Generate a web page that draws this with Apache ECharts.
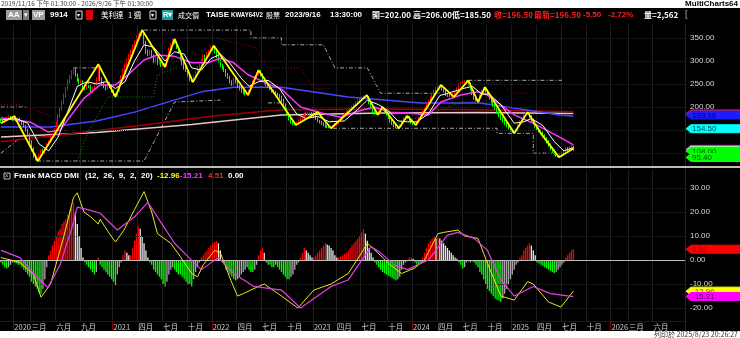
<!DOCTYPE html>
<html><head><meta charset="utf-8">
<script src="https://cdn.jsdelivr.net/npm/echarts@6/dist/echarts.min.js"></script>
<style>html,body{margin:0;padding:0;background:#000;overflow:hidden}#c{width:740px;height:338px}</style>
</head><body><div id="c"></div><script>
// ---------- DATA ----------
const firstWeek = [2019, 10, 16];   // 2019/11/16
const weekCount = 359;              // through 2026/9/26
// weekly candles [open, close, low, high]
const candles = [
[172,170,166,176],[170,168,164,173],[168,172,166,175],[172,175,170,179],[175,178,172,182],[178,176,173,181],[176,174,170,178],[174,178,172,183],
[178,172,169,180],[172,175,168,178],[175,170,167,177],[170,165,161,172],[165,160,156,168],[160,150,147,162],[150,140,136,153],[140,125,120,143],[125,110,104,128],[110,95,90,113],[95,88,84,99],[88,86,83,92],
[86,95,85,98],[95,105,92,108],[105,100,97,110],[100,110,98,113],[110,120,107,123],[120,125,116,129],[125,135,122,138],[135,140,131,144],[140,150,137,154],[150,165,147,168],[165,180,162,184],[180,195,176,199],
[195,210,192,214],[210,225,206,229],[225,240,220,244],[240,255,236,260],[255,265,250,270],[265,275,260,280],[275,283,270,286],
[283,270,266,285],[270,260,255,273],[260,250,245,263],[250,255,246,259],[255,245,241,258],[245,240,236,249],[240,250,237,254],[250,245,241,253],[245,235,232,248],[235,240,231,244],[240,250,237,254],[250,260,247,264],
[260,285,257,293],
[285,260,256,288],[260,250,246,264],[250,245,241,254],[245,240,236,249],[240,250,237,254],[250,245,241,254],[245,235,231,248],[235,228,224,238],[228,225,222,231],
[225,235,223,238],[235,250,232,254],[250,265,247,269],[265,280,262,284],[280,290,276,294],[290,300,286,305],[300,310,296,315],[310,320,306,325],[320,330,316,335],[330,340,326,345],[340,350,335,355],[350,355,345,360],[355,360,350,364],[360,365,354,367],
[365,340,336,366],[340,320,315,344],[320,315,310,325],[315,320,311,325],[320,310,306,324],[310,300,296,314],[300,305,297,309],[305,295,291,308],[295,300,292,304],[300,290,287,303],[290,292,287,296],[292,290,287,295],
[290,310,288,313],[310,325,307,329],[325,335,321,339],[335,345,331,348],[345,340,336,348],
[340,330,326,343],[330,320,316,333],[320,305,301,323],[305,295,291,308],[295,285,281,298],[285,280,276,289],[280,270,266,283],[270,260,256,273],[260,256,254,264],
[256,265,254,268],[265,275,262,278],[275,285,272,289],[285,290,281,294],[290,300,287,304],[300,310,296,314],[310,305,301,314],[305,315,302,319],[315,320,311,324],[320,330,317,333],[330,328,323,333],
[328,320,316,331],[320,310,306,323],[310,300,296,313],[300,290,286,303],[290,285,281,294],[285,280,276,289],[280,270,266,283],[270,265,261,274],[265,255,251,268],[255,250,246,258],[250,260,247,264],[260,255,251,264],[255,245,241,258],[245,240,236,248],[240,235,231,243],[235,232,228,238],[232,228,225,235],[228,228,226,233],
[228,235,226,238],[235,245,232,248],[245,255,242,258],[255,265,252,268],[265,272,262,276],[272,278,268,280],
[278,270,266,280],[270,260,256,273],[260,255,251,264],[255,250,246,258],[250,245,241,253],[245,240,236,248],[240,235,231,243],[235,232,228,238],[232,228,224,235],[228,225,221,231],[225,222,218,228],
[222,215,211,225],[215,205,201,218],[205,195,191,208],[195,185,181,198],[185,175,171,188],[175,168,164,178],[168,163,160,171],[163,162,161,167],
[162,165,160,168],[165,170,162,173],[170,175,167,178],[175,180,172,183],[180,185,177,188],[185,183,180,188],[183,187,180,189],[187,188,184,189],[188,185,182,189],[185,180,177,188],[180,175,172,183],[175,170,167,178],
[170,168,164,172],[168,165,161,170],[165,162,158,167],[162,158,155,165],[158,156,154,161],[156,155,154,159],[155,155,154,158],
[155,158,154,161],[158,162,156,165],[162,165,159,168],[165,170,162,173],[170,175,167,178],[175,180,172,183],[180,185,177,188],[185,188,182,191],[188,192,185,195],[192,195,189,198],[195,200,192,203],[200,205,197,208],[205,210,202,213],[210,215,207,218],[215,218,212,221],[218,220,215,223],[220,223,217,225],[223,225,220,226],[225,222,218,226],
[222,210,206,224],[210,200,196,213],[200,190,186,203],[190,185,183,193],[185,184,183,188],
[184,190,183,193],[190,196,188,199],[196,199,193,200],
[199,192,188,200],[192,185,181,195],[185,178,174,188],[178,170,166,181],[170,165,161,173],[165,160,156,168],[160,157,154,163],[157,155,154,160],
[155,160,154,163],[160,168,157,171],[168,175,165,178],[175,180,172,181],[180,178,174,181],
[178,172,168,180],[172,168,164,175],[168,163,161,171],[163,162,161,166],
[162,168,160,171],[168,175,165,178],[175,182,172,185],[182,190,179,193],[190,198,187,201],[198,205,195,208],[205,212,202,215],[212,220,209,223],[220,228,217,231],[228,235,225,238],[235,240,232,243],[240,245,237,247],[245,246,241,248],
[246,240,236,248],[240,235,231,243],[235,228,224,238],[228,225,222,231],[225,223,222,228],[223,223,222,227],[223,226,222,229],
[226,232,224,235],[232,240,229,243],[240,248,237,251],[248,252,245,255],[252,255,249,257],[255,257,252,258],[257,256,252,258],[256,250,246,258],
[250,240,236,253],[240,230,226,243],[230,220,216,233],[220,215,212,223],[215,212,211,218],
[212,225,211,228],[225,235,222,238],[235,241,232,243],
[241,235,231,243],[235,228,224,238],[228,220,216,231],[220,212,208,223],[212,205,201,215],[205,198,194,208],[198,190,186,201],[190,182,178,193],[182,175,171,185],[175,170,166,178],[170,165,161,173],[165,160,156,168],[160,155,151,163],[155,150,146,158],[150,147,144,153],[147,145,143,150],
[145,150,143,153],[150,160,147,163],[160,168,157,171],[168,175,165,178],[175,182,172,185],[182,186,179,189],[186,187,183,189],
[187,180,176,189],[180,172,168,183],[172,165,161,175],[165,158,154,168],[158,152,148,161],[152,148,145,155],[148,145,143,151],
[145,138,134,147],[138,132,128,141],[132,125,121,135],[125,118,114,128],[118,110,106,121],[110,105,101,113],[105,100,96,108],[100,95,92,103],[95,93,91,98],
[93,96,92,100],[96,100,94,103],[100,105,98,108],[105,110,102,113],[110,108,105,113],[108,112,106,115],[112,113,109,118],[113,108,105,116]
];
// yellow zigzag pivots [week, price]
const zigzag = [[0,165],[7,180],[19.4,83],[51,293],[60,222],[74,367],[86,287],[91,348],[100.6,254],[111.6,333],[129.5,226],[135,280],[154.6,161],[166,189],[173,154],[191.8,226],[197.6,183],[200,200],[208.6,154],[213,181],[217.5,161],[230.6,248],[237.4,222],[245,258],[250,211],[253.7,243],[269,143],[276,189],[283,143],[292.5,91],[300,110]];
const maWhite = [[0,172],[8,175],[14,165],[20,120],[25,105],[30,135],[35,190],[40,245],[45,255],[50,250],[55,255],[60,240],[65,255],[70,300],[75,335],[80,330],[86,300],[91,320],[96,315],[100,285],[105,280],[110,305],[115,315],[120,295],[126,262],[130,245],[135,255],[140,258],[146,240],[150,215],[155,185],[160,175],[166,180],[172,168],[180,170],[187,195],[192,215],[198,205],[203,192],[208,170],[213,168],[218,168],[224,185],[230,225],[236,232],[242,240],[247,245],[252,228],[256,228],[262,205],[269,165],[274,168],[278,175],[284,160],[290,125],[295,105],[300,112]];
const maMagenta = [[0,177],[15.7,167],[24.6,146],[31,150],[43.5,219],[52,248],[60,248],[66.6,270],[75,302],[82,313],[91,310],[100,296],[108.5,296],[115,306],[122,296],[129.5,270],[138,254],[147,239],[157,200],[168,187],[178,178],[189,193],[195.5,200],[204,189],[213,187],[224,183],[230.6,211],[241,226],[250,233],[255,226],[269,183],[279,165],[293.5,133],[300,118]];
const maBlue = [[0,157],[26,157],[50,170],[70,189],[105,233],[122,243],[147,243],[182,222],[220,209],[251,209],[293,183],[300,180]];
const maDarkRed = [[0,125],[26,137],[73,160],[110,180],[147,194],[200,196],[250,194],[300,190]];
const maPink = [[0,135],[50,145],[100,162],[147,183],[200,187],[250,188],[300,186]];
// stepped channel lines (null = gap)
const stopGray = [[0,200],[14,200],[14,null],[38,285],[52,285],[52,null],[75,367],[131,367],[131,350],[147,350],[147,335],[169,335],[175,285],[192,285],[199,230],[230,230],[230,null],[245,258],[294,258],[294,null],
  [0,100],[10,133],[10,null],[19,83],[75,83],[91,211],[91,215],[115,215],[115,null],[140,209],[147,209],[147,null],[174,154],[260,154],[260,143],[279,143],[279,100],[290,100]];
const stopRed = [[0,205],[10,205],[27,180],[27,null],[94,350],[112,350],[133,330],[140,285],[157,285],[164,240],[172,240],[172,null],[255,252],[262,252],[269,230],[276,230]];
const stopGreen = [[40,83],[45,139],[56,222],[80,222],[82,270],[92,285],[92,null],[205,161],[225,185],[241,211],[248,211]];
// MACD histogram (weekly)
const macdHist = [-1,-2,-3,-3.5,-3,-2,-1,-1,-1.5,-2,-2,
-3,-4,-5,-6,-7,-9,-10,-11,-12,-13.5,-14,-12,-8,-3,
2,4,6,8,10,12,13,15,16,17,19,21,23,24,20,15,10,5,1,
-1,-2,-3,-4,-5,-6,-5,1,-2,-3,-4,-5,-6,-7,-8,-9,-10.5,-6,-3,-1,
2,4,3,2,2,5,8,11,14,13,10,7,4,1,
-1,-2,-4,-5,-6,-7,-8,-10,-11,-9,-6,-4,-3,-4,-5,-6,-6,-7,-8,-9,-10,-10,-11,-8,-5,-3,-1,
1,2,3,4,5,6,7,7.5,8,7,4,-1,-2,-4,-5,-6,-7,-8,-8.5,-8,-7,-6,-5,-4,-3,-4,-5,-5,-4,-2,2,4,5,3,
-1,-2,-2,-3,-3,-2,-3,-4,-5,-6,-7,-8,-8,-7,-6,-4,-2,-1,
1,3,5,4,3,2,1,1,2,3,4,5,6,7,6.5,6,5,4,2,1,
1,1.5,2,2.5,3,4,5,6,7,8,9,10,11.5,13,11,8,5,3,1,
-1,-2,-3,-4,-5,-5.5,-6,-6.5,-7,-7.5,-8,-8.5,-8,-7,-4,-2,-1,-0.5,1,1,0.5,-1,-2,-2,-1,
1,3,5,7,8,9,9.5,9,9.5,9,8,7,6,5,4,3,2,1,0.5,
-1,-2,-3.5,-3,-1,-0.5,-1,-0.5,-1,-2,-3,-5,-6,-8,-10,-12,-13,-14,-15,-16,-16.5,-17,-17.5,-16,
-14,-12,-10,-8,-6,-4,-2,-1,1,2,4,5,6,7,6,4,2,
-1,-1.5,-2,-2.5,-3,-3.5,-4,-4.5,-5,-5.5,-5,-4,-3,-2,-1,1,2,3,4,4.51];
const difLine = [[0,1],[10,-1],[17,-6],[21,-15.5],[22,-15.6],[26,-10],[33,10],[38,26],[40,28],[43.5,20],[47,18],[51,15],[52,17],[56,12],[60,7.5],[64.5,12.5],[70,21],[75,28.5],[79,20],[82,11],[89,7],[94,1.4],[100,-5.6],[103,-7],[106,-2],[112,4],[115,3],[120.5,-8.5],[124,-15],[127,-14],[135,-11],[138,-10],[147,-15],[155.6,-20],[164,-12.5],[173,-10],[182,-5.6],[189,3],[192,7],[197.5,3],[204,-2],[210,-5.6],[216.5,-3.5],[222,0],[229,11],[232,11.5],[239.5,12.5],[243,10],[250,9],[255,-1.4],[262,-15],[269,-16.7],[276,-9],[279,-10],[287,-17.5],[293.5,-19.6],[300,-12.96]];
const deaLine = [[0,4],[10,1],[17,-5.6],[24.6,-11.5],[31,-2],[37,13],[40,22],[45.6,21],[52,19.5],[61,12.5],[70,18],[77,24],[84,15.5],[91,7],[98,1.4],[105,-4],[114,1],[122,-5.6],[132.6,-11],[147,-12.5],[157,-20],[173,-11],[182,-8.3],[194,5.6],[199,3],[206,-2],[213,-4],[224,0],[234,10.4],[239.5,11.5],[248,9],[255,4],[262,-8.3],[269,-15],[279,-11],[288,-14],[300,-15.21]];
// axis ticks and labels
const priceTicks = [100,150,200,250,300,350];
const macdTicks = [-20,-10,0,10,20,30];
const xTickText = {'2020-01':'2020','2020-03':'三月','2020-06':'六月','2020-09':'九月','2021-01':'2021','2021-04':'四月','2021-07':'七月','2021-10':'十月','2022-01':'2022','2022-04':'四月','2022-07':'七月','2022-10':'十月','2023-01':'2023','2023-04':'四月','2023-07':'七月','2023-10':'十月','2024-01':'2024','2024-04':'四月','2024-07':'七月','2024-10':'十月','2025-01':'2025','2025-04':'四月','2025-07':'七月','2025-10':'十月','2026-01':'2026','2026-03':'三月','2026-06':'六月'};
// right-edge value tags: at = level where the (stacked) tag sits, t = its text
const priceTags = [{at:185,t:'',fill:'#ff2020',fg:'#000'},{at:182.8,t:'189.16',fill:'#1c1cff',fg:'#00005a'},{at:153,t:'154.50',fill:'#00ffff',fg:'#004848'},{at:108.3,t:'118.04',fill:'#ffffff',fg:'#000',border:'#ff00ff'},{at:104.6,t:'108.00',fill:'#00ff00',fg:'#005000'},{at:90.6,t:'95.40',fill:'#00ff00',fg:'#005000'}];
const macdTags = [{at:4.51,t:'4.51',fill:'#ff0000',fg:'#900000'},{at:-12.96,t:'-12.96',fill:'#ffff00',fg:'#606000'},{at:-15.21,t:'-15.21',fill:'#ff00ff',fg:'#600060'}];

// ---------- BUILD ----------
const categories = [];
for (let k = 0; k < weekCount; k++) {
  const d = new Date(Date.UTC(firstWeek[0], firstWeek[1], firstWeek[2] + 7 * k));
  categories.push(d.toISOString().slice(0, 10));
}
function tickText(idx) {
  const key = categories[idx].slice(0, 7);
  if (!(key in xTickText)) return null;
  if (idx > 0 && categories[idx - 1].slice(0, 7) === key) return null;
  return xTickText[key];
}
function isYearStart(idx) { return idx > 0 && categories[idx].slice(0, 4) !== categories[idx - 1].slice(0, 4); }

const CJK = '"Noto Sans CJK TC","Liberation Sans",sans-serif';
const LAT = '"Liberation Sans",Arial,sans-serif';
const chart = echarts.init(document.getElementById('c'), null, {renderer: 'canvas'});
const GX = 0, GR = 55;
const pMin = 70, pMax = 378, mMin = -25.4, mMax = 37.5;

const catAxis = (gi, showLabel) => ({
  type: 'category', gridIndex: gi, data: categories, boundaryGap: true, position: 'bottom',
  axisLine: {show: showLabel, onZero: false, lineStyle: {color: '#5a0000'}},
  axisTick: {show: showLabel, interval: (i) => isYearStart(i), length: 9, lineStyle: {color: '#8a0000'}},
  axisLabel: {show: showLabel, hideOverlap: false, interval: (i) => tickText(i) !== null, formatter: (v, i) => tickText(i) || '', color: '#d0d0d0', fontSize: 7.5, fontFamily: CJK, align: 'left', margin: 2},
  splitLine: {show: true, interval: (i) => tickText(i) !== null, lineStyle: {color: '#1e1e1e', width: 1}}
});
const valX = (gi) => ({type: 'value', gridIndex: gi, min: -0.5, max: weekCount - 0.5, show: false, axisLine: {onZero: false}, splitLine: {show: false}});
const gridLines = (vals) => ({silent: true, symbol: 'none', label: {show: false}, lineStyle: {color: '#262626', type: 'dotted', width: 1}, data: vals.map(v => ({yAxis: v}))});

const line = (name, data, color, width, xi, yi, extra) => Object.assign({
  name, type: 'line', data, xAxisIndex: xi, yAxisIndex: yi, showSymbol: false, symbol: 'none',
  lineStyle: {color, width}, animation: false, silent: true, connectNulls: false, z: 3
}, extra || {});

const histColors = macdHist.map((v, i) => {
  const p = i > 0 ? macdHist[i - 1] : 0;
  if (v >= 0) return v >= p ? '#ff0000' : '#e8e8e8';
  return v <= p ? '#00ff00' : '#a8a8a8';
});

chart.setOption({
  backgroundColor: '#000',
  animation: false,
  grid: [
    {left: GX, right: GR, top: 25, height: 142},
    {left: GX, right: GR, top: 170, height: 151}
  ],
  xAxis: [catAxis(0, false), catAxis(1, true), valX(0), valX(1)],
  yAxis: [
    {type: 'value', gridIndex: 0, position: 'right', min: pMin, max: pMax, axisLine: {show: false}, axisTick: {show: false}, splitLine: {show: false},
      axisLabel: {customValues: priceTicks, formatter: v => v.toFixed(2), color: '#d8d8d8', fontSize: 8, fontFamily: LAT, margin: 5}},
    {type: 'value', gridIndex: 1, position: 'right', min: mMin, max: mMax, axisLine: {show: false}, axisTick: {show: false}, splitLine: {show: false},
      axisLabel: {customValues: macdTicks, formatter: v => v.toFixed(2), color: '#d8d8d8', fontSize: 8, fontFamily: LAT, margin: 5}}
  ],
  series: [
    line('grid', [], '#000', 0, 2, 0, {markLine: gridLines(priceTicks)}),
    line('stopGray', stopGray, '#a8a8a8', 1, 2, 0, {lineStyle: {color: '#a8a8a8', width: 1, type: [4, 2, 1, 2]}}),
    line('stopRed', stopRed, '#b00000', 1, 2, 0, {lineStyle: {color: '#b00000', width: 1, type: [1, 2]}}),
    line('stopGreen', stopGreen, '#00a000', 1, 2, 0, {lineStyle: {color: '#00a000', width: 1, type: [1, 2]}}),
    line('pink', maPink, '#e8c8c8', 1.5, 2, 0),
    line('darkred', maDarkRed, '#a00000', 1.5, 2, 0),
    line('blue', maBlue, '#4848ff', 1.5, 2, 0),
    {type: 'candlestick', xAxisIndex: 0, yAxisIndex: 0, data: candles, barWidth: 1.2, z: 4,
      itemStyle: {color: '#ff0000', color0: '#00ff00', borderColor: '#ff0000', borderColor0: '#00ff00', borderWidth: 1}},
    line('magenta', maMagenta, '#ff33ff', 1.5, 2, 0, {z: 5}),
    line('white', maWhite, '#ffffff', 1, 2, 0, {z: 5}),
    line('zigzag', zigzag, '#ffff00', 1.8, 2, 0, {z: 6}),
    {type: 'bar', xAxisIndex: 1, yAxisIndex: 1, barWidth: 1.3, z: 3, silent: true,
      data: macdHist.map((v, i) => ({value: v, itemStyle: {color: histColors[i]}})),
      markLine: {silent: true, symbol: 'none', label: {show: false}, lineStyle: {color: '#bdbdbd', type: 'solid', width: 1}, data: [{yAxis: 0}]}},
    line('mgrid', [], '#000', 0, 3, 1, {markLine: gridLines(macdTicks.filter(v => v !== 0))}),
    line('dif', difLine, '#e6e61e', 1, 3, 1, {z: 5}),
    line('dea', deaLine, '#e040e0', 1.2, 3, 1, {z: 5})
  ]
});

// ---------- CHROME & TAGS ----------
const T = (x, y, text, color, size, opts) => {
  opts = opts || {};
  const el = {type: 'text', x, y, silent: true, z: 100,
    style: {text, fill: color, font: (opts.bold ? 'bold ' : '') + size + 'px ' + (opts.cjk ? CJK : LAT), verticalAlign: 'middle', align: opts.align || 'left'}};
  if (opts.sx) el.scaleX = opts.sx;
  return el;
};
const R = (x, y, w, h, fill, stroke) => ({type: 'rect', silent: true, z: 99, shape: {x, y, width: w, height: h}, style: {fill, stroke: stroke || null, lineWidth: 1}});
const g = [];
g.push(R(0, 0, 740, 8, '#ffffff'));
g.push(T(1, 4, '2019/11/16 下午 01:30:00 - 2026/9/26 下午 01:30:00', '#444', 6.5, {cjk: true}));
g.push(T(738, 4, 'MultiCharts64', '#000', 8, {bold: true, align: 'right'}));
g.push(R(0, 331, 740, 7, '#ffffff'));
g.push(T(738, 334.5, '列印於 2025/8/23 20:26:27', '#333', 7, {cjk: true, align: 'right'}));
// toolbar
g.push(R(6, 10, 16, 10, '#9c9c9c')); g.push(T(8, 15, 'AA', '#fff', 8, {bold: true}));
g.push(R(23, 10, 6, 10, '#7a7a7a')); g.push(T(24, 15, '▾', '#fff', 7));
g.push(R(32, 10, 13, 10, '#9c9c9c')); g.push(T(33, 15, 'VP', '#fff', 8, {bold: true}));
g.push(T(50, 15, '9914', '#fff', 8, {bold: true}));
g.push(R(76, 11, 6, 8, '#000', '#ddd')); g.push(T(77, 15, '▾', '#fff', 6));
g.push(R(86, 10, 7, 10, '#e00000'));
g.push(T(101, 15, '美利達', '#fff', 7.5, {cjk: true}));
g.push(T(128, 15, '1 週', '#fff', 7.5, {cjk: true}));
g.push(R(150, 11, 6, 8, '#000', '#ddd')); g.push(T(151, 15, '▾', '#fff', 6));
g.push(R(162, 10, 11, 10, '#18a0a0')); g.push(T(163, 15, 'R▾', '#fff', 7.5, {bold: true}));
g.push(T(178, 15, '成交價', '#fff', 7, {cjk: true}));
g.push(T(206, 15, 'TAISE', '#fff', 8, {bold: true}));
g.push(T(231, 15, 'KWAY64V2', '#fff', 8, {bold: true, sx: 0.76}));
g.push(T(266, 15, '股票', '#fff', 7, {cjk: true}));
g.push(T(285, 15, '2023/9/16', '#fff', 8, {bold: true}));
g.push(T(330, 15, '13:30:00', '#fff', 8, {bold: true}));
g.push(T(372, 15, '開=202.00', '#fff', 8, {cjk: true, bold: true}));
g.push(T(413, 15, '高=206.00', '#fff', 8, {cjk: true, bold: true}));
g.push(T(452, 15, '低=185.50', '#fff', 8, {cjk: true, bold: true}));
g.push(T(494, 15, '收=196.50', '#ff2020', 8, {cjk: true, bold: true}));
g.push(T(534, 15, '最新=196.50', '#ff2020', 8, {cjk: true, bold: true}));
g.push(T(583, 15, '-5.50', '#ff2020', 8, {bold: true}));
g.push(T(608, 15, '-2.72%', '#ff2020', 8, {bold: true}));
g.push(T(644, 15, '量=2,562', '#fff', 8, {cjk: true, bold: true}));
g.push(T(685, 15, '[', '#aaa', 9));
// pane separator and MACD title
g.push(R(0, 166, 740, 2, '#bdbdbd'));
g.push(R(4, 173, 6, 6, '#000', '#bbb')); g.push(T(4.6, 176, '×', '#bbb', 7));
g.push(T(14, 176, 'Frank MACD DMI', '#fff', 8, {bold: true}));
g.push(T(85, 176, '(12,  26,  9,  2,  20)', '#fff', 8, {bold: true}));
g.push(T(157, 176, '-12.96', '#ffff00', 8, {bold: true}));
g.push(T(180, 176, '-15.21', '#ff33ff', 8, {bold: true}));
g.push(T(208, 176, '4.51', '#ff2020', 8, {bold: true}));
g.push(T(228, 176, '0.00', '#fff', 8, {bold: true}));
// right axis divider
g.push({type: 'line', silent: true, z: 98, shape: {x1: 685.5, y1: 24, x2: 685.5, y2: 331}, style: {stroke: '#6a0808', lineWidth: 1}});
let tagZ = 101;
function tag(yIdx, tg) {
  const y = chart.convertToPixel({yAxisIndex: yIdx}, tg.at);
  const h = 8;
  g.push({type: 'polygon', silent: true, z: tagZ++, shape: {points: [[686, y], [691, y - h / 2], [740, y - h / 2], [740, y + h / 2], [691, y + h / 2]]},
    style: {fill: tg.fill, stroke: tg.border || tg.fill, lineWidth: 1}});
  if (tg.t) g.push(Object.assign(T(692, y + 0.5, tg.t, tg.fg, 8), {z: tagZ++}));
}
priceTags.forEach(t => tag(0, t));
macdTags.forEach(t => tag(1, t));
chart.setOption({graphic: g});
</script></body></html>
